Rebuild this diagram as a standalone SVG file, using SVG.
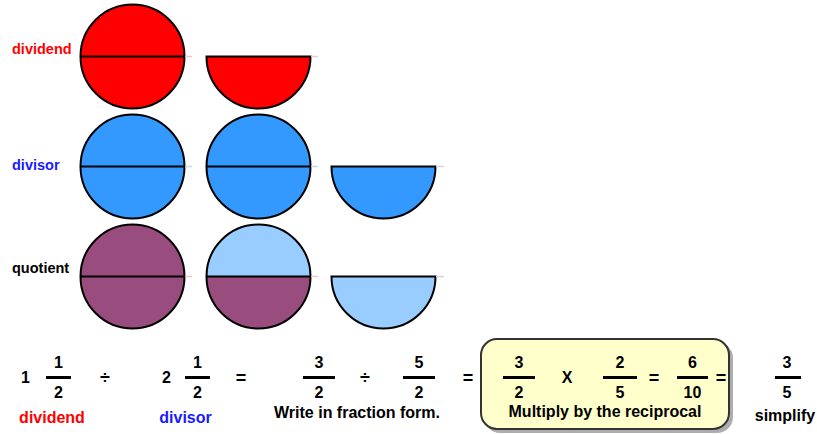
<svg xmlns="http://www.w3.org/2000/svg" width="817" height="434" viewBox="0 0 817 434">
<defs>
<style>
text{font-family:"Liberation Sans",Arial,sans-serif;font-weight:bold}
.lbl{font-size:14.5px}
.num{font-size:16px;fill:#000;text-anchor:middle}
.op{font-size:18px;fill:#000;text-anchor:middle}
.big{font-size:16px;text-anchor:middle}
.pie{stroke:#000;stroke-width:2}
.cut{stroke:#000;stroke-width:2}
.tail{stroke:#e8c8c8;stroke-width:1.5}
.bar{stroke:#000;stroke-width:3}
.red{fill:#ff0000}
.blue{fill:#3399ff}
.purple{fill:#994c7e}
.light{fill:#99ccff}
</style>
</defs>

<g id="label-dividend"><text class="lbl" x="12" y="54" fill="#ff0000">dividend</text></g>
<g id="label-divisor"><text class="lbl" x="12" y="170" fill="#1a1aff">divisor</text></g>
<g id="label-quotient"><text class="lbl" x="12" y="273" fill="#000">quotient</text></g>

<g id="dividend-whole">
<circle class="pie red" cx="132.5" cy="56.5" r="52"/>
<line class="cut" x1="80.5" y1="56.5" x2="184.5" y2="56.5"/>
<line class="tail" x1="185" y1="56.5" x2="192" y2="56.5"/>
</g>
<g id="dividend-half">
<path class="pie red" d="M206.5 56.5 A52 52 0 0 0 310.5 56.5 Z"/>
<line class="tail" x1="311" y1="56.5" x2="318" y2="56.5"/>
</g>

<g id="divisor-whole-1">
<circle class="pie blue" cx="132.5" cy="166.5" r="52"/>
<line class="cut" x1="80.5" y1="166.5" x2="184.5" y2="166.5"/>
<line class="tail" x1="185" y1="166.5" x2="192" y2="166.5" style="stroke:#c8d8e8"/>
</g>
<g id="divisor-whole-2">
<circle class="pie blue" cx="258.5" cy="166.5" r="52"/>
<line class="cut" x1="206.5" y1="166.5" x2="310.5" y2="166.5"/>
<line class="tail" x1="311" y1="166.5" x2="318" y2="166.5" style="stroke:#c8d8e8"/>
</g>
<g id="divisor-half">
<path class="pie blue" d="M331.5 166.5 A52 52 0 0 0 435.5 166.5 Z"/>
<line class="tail" x1="436" y1="166.5" x2="444" y2="166.5" style="stroke:#c8d8e8"/>
</g>

<g id="quotient-whole">
<circle class="pie purple" cx="132.5" cy="276.5" r="52"/>
<line class="cut" x1="80.5" y1="276.5" x2="184.5" y2="276.5"/>
<line class="tail" x1="185" y1="276.5" x2="192" y2="276.5"/>
</g>
<g id="quotient-mixed">
<path class="purple" d="M206.5 276.5 A52 52 0 0 0 310.5 276.5 Z"/>
<path class="light" d="M206.5 276.5 A52 52 0 0 1 310.5 276.5 Z"/>
<circle cx="258.5" cy="276.5" r="52" fill="none" stroke="#000" stroke-width="2"/>
<line class="cut" x1="206.5" y1="276.5" x2="310.5" y2="276.5"/>
<line class="tail" x1="311" y1="276.5" x2="318" y2="276.5"/>
</g>
<g id="quotient-half">
<path class="pie light" d="M331.5 276.5 A52 52 0 0 0 435.5 276.5 Z"/>
<line class="tail" x1="436" y1="276.5" x2="444" y2="276.5" style="stroke:#c8d8e8"/>
</g>

<g id="answer-box">
<rect x="484" y="342" width="249" height="91" rx="16" fill="#8a8a8a" opacity="0.7"/>
<rect x="481" y="339" width="248" height="90" rx="16" fill="#ffffcc" stroke="#333" stroke-width="2"/>
</g>

<g id="equation">
<text class="num" x="25.5" y="383">1</text>
<text class="num" x="58.5" y="368">1</text>
<line class="bar" x1="46" y1="377.5" x2="71" y2="377.5"/>
<text class="num" x="58.5" y="398">2</text>
<text class="op" x="105" y="384">÷</text>

<text class="num" x="166.5" y="383">2</text>
<text class="num" x="197.5" y="368">1</text>
<line class="bar" x1="185" y1="377.5" x2="210" y2="377.5"/>
<text class="num" x="197.5" y="398">2</text>
<text class="op" x="241" y="384">=</text>

<text class="num" x="319" y="368">3</text>
<line class="bar" x1="303" y1="377.5" x2="335" y2="377.5"/>
<text class="num" x="319" y="398">2</text>
<text class="op" x="365" y="384">÷</text>
<text class="num" x="419" y="368">5</text>
<line class="bar" x1="403" y1="377.5" x2="435" y2="377.5"/>
<text class="num" x="419" y="398">2</text>
<text class="op" x="468" y="384">=</text>

<text class="num" x="519" y="368">3</text>
<line class="bar" x1="503" y1="377.5" x2="535" y2="377.5"/>
<text class="num" x="519" y="398">2</text>
<text class="num" x="567" y="383">X</text>
<text class="num" x="620" y="368">2</text>
<line class="bar" x1="603" y1="377.5" x2="637" y2="377.5"/>
<text class="num" x="620" y="398">5</text>
<text class="op" x="654" y="384">=</text>
<text class="num" x="692.5" y="368">6</text>
<line class="bar" x1="677" y1="377.5" x2="708" y2="377.5"/>
<text class="num" x="692.5" y="398">10</text>
<text class="op" x="721" y="384">=</text>

<text class="num" x="787" y="368">3</text>
<line class="bar" x1="775" y1="377.5" x2="801" y2="377.5"/>
<text class="num" x="787" y="398">5</text>

<text class="big" x="52" y="423" fill="#ff0000">dividend</text>
<text class="big" x="185.5" y="423" fill="#1a1aff">divisor</text>
<text class="big" x="357" y="418" fill="#000">Write in fraction form.</text>
<text class="big" x="605" y="417" fill="#000">Multiply by the reciprocal</text>
<text class="big" x="785" y="421" fill="#000">simplify</text>
</g>
</svg>
